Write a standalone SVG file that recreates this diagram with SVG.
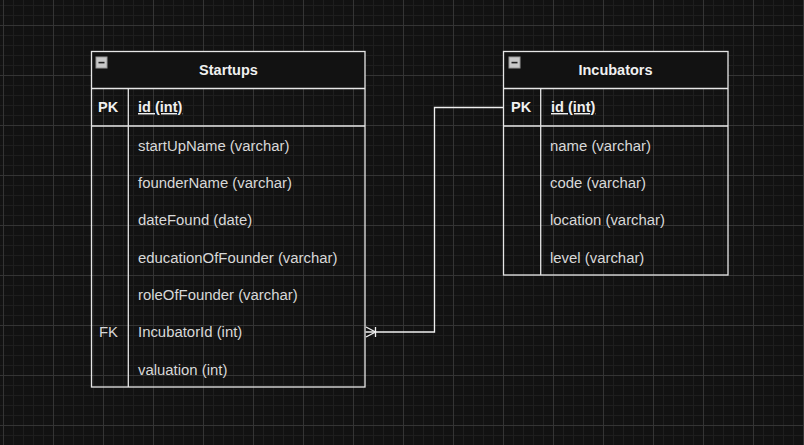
<svg xmlns="http://www.w3.org/2000/svg" width="804" height="445" viewBox="0 0 804 445">
  <defs>
    <pattern id="minor" x="3" y="5" width="10" height="10" patternUnits="userSpaceOnUse">
      <path d="M0.5 0V10M0 0.5H10" stroke="#1e1e1e" stroke-width="1" fill="none"/>
    </pattern>
    <pattern id="major" x="3" y="25" width="50" height="50" patternUnits="userSpaceOnUse">
      <path d="M0.5 0V50M0 0.5H50" stroke="#343434" stroke-width="1" fill="none"/>
    </pattern>
    <g id="minus">
      <rect x="0" y="0" width="11" height="11" fill="#c8c8c8" stroke="#9a9a9a" stroke-width="1"/>
      <rect x="2.5" y="4.8" width="6" height="1.6" fill="#202020"/>
    </g>
  </defs>
  <style>
    .border { fill: none; stroke: #e6e6e6; stroke-width: 1.3; }
    .head { fill: #121212; }
    .title { font-family: "Liberation Sans", Arial, sans-serif; font-size: 14.5px; font-weight: bold; fill: #f0f0f0; text-anchor: middle; }
    .key { font-family: "Liberation Sans", Arial, sans-serif; font-size: 14.5px; font-weight: bold; fill: #f0f0f0; }
    .pk { font-family: "Liberation Sans", Arial, sans-serif; font-size: 14.5px; font-weight: bold; fill: #f0f0f0; text-decoration: underline; }
    .field { font-family: "Liberation Sans", Arial, sans-serif; font-size: 14.9px; fill: #d8d8d8; }
    .conn { fill: none; stroke: #f0f0f0; stroke-width: 1.3; }
  </style>

  <rect x="0" y="0" width="804" height="445" fill="#121212"/>
  <rect x="0" y="0" width="804" height="445" fill="url(#minor)"/>
  <rect x="0" y="0" width="804" height="445" fill="url(#major)"/>

  <g id="connectors">
    <path class="conn" d="M365.5 332H434.5V107.5H503"/>
    <path class="conn" d="M366 327L375.5 332L366 337M375.5 327V337"/>
  </g>

  <g id="startups">
    <rect class="head" x="91.5" y="51.5" width="273.5" height="37"/>
    <rect class="border" x="91.5" y="51.5" width="273.5" height="335.5"/>
    <line class="border" x1="91.5" y1="88.5" x2="365" y2="88.5"/>
    <line class="border" x1="91.5" y1="126" x2="365" y2="126"/>
    <line class="border" x1="128.3" y1="88.5" x2="128.3" y2="387"/>
    <use href="#minus" x="96" y="57"/>
    <text class="title" x="228.5" y="75">Startups</text>
    <text class="key" x="98" y="112">PK</text>
    <text class="pk" x="138" y="112">id (int)</text>
    <text class="field" x="138" y="150.5">startUpName (varchar)</text>
    <text class="field" x="138" y="187.5">founderName (varchar)</text>
    <text class="field" x="138" y="225">dateFound (date)</text>
    <text class="field" x="138" y="262.5">educationOfFounder (varchar)</text>
    <text class="field" x="138" y="300">roleOfFounder (varchar)</text>
    <text class="field" x="99" y="337">FK</text>
    <text class="field" x="138" y="337">IncubatorId (int)</text>
    <text class="field" x="138" y="374.5">valuation (int)</text>
  </g>

  <g id="incubators">
    <rect class="head" x="503.5" y="51.5" width="224.5" height="37"/>
    <rect class="border" x="503.5" y="51.5" width="224.5" height="223.5"/>
    <line class="border" x1="503.5" y1="88.5" x2="728" y2="88.5"/>
    <line class="border" x1="503.5" y1="126" x2="728" y2="126"/>
    <line class="border" x1="540.7" y1="88.5" x2="540.7" y2="275"/>
    <use href="#minus" x="509" y="57"/>
    <text class="title" x="615.5" y="75">Incubators</text>
    <text class="key" x="511" y="112">PK</text>
    <text class="pk" x="551" y="112">id (int)</text>
    <text class="field" x="550" y="150.5">name (varchar)</text>
    <text class="field" x="550" y="187.5">code (varchar)</text>
    <text class="field" x="550" y="225">location (varchar)</text>
    <text class="field" x="550" y="262.5">level (varchar)</text>
  </g>
</svg>
